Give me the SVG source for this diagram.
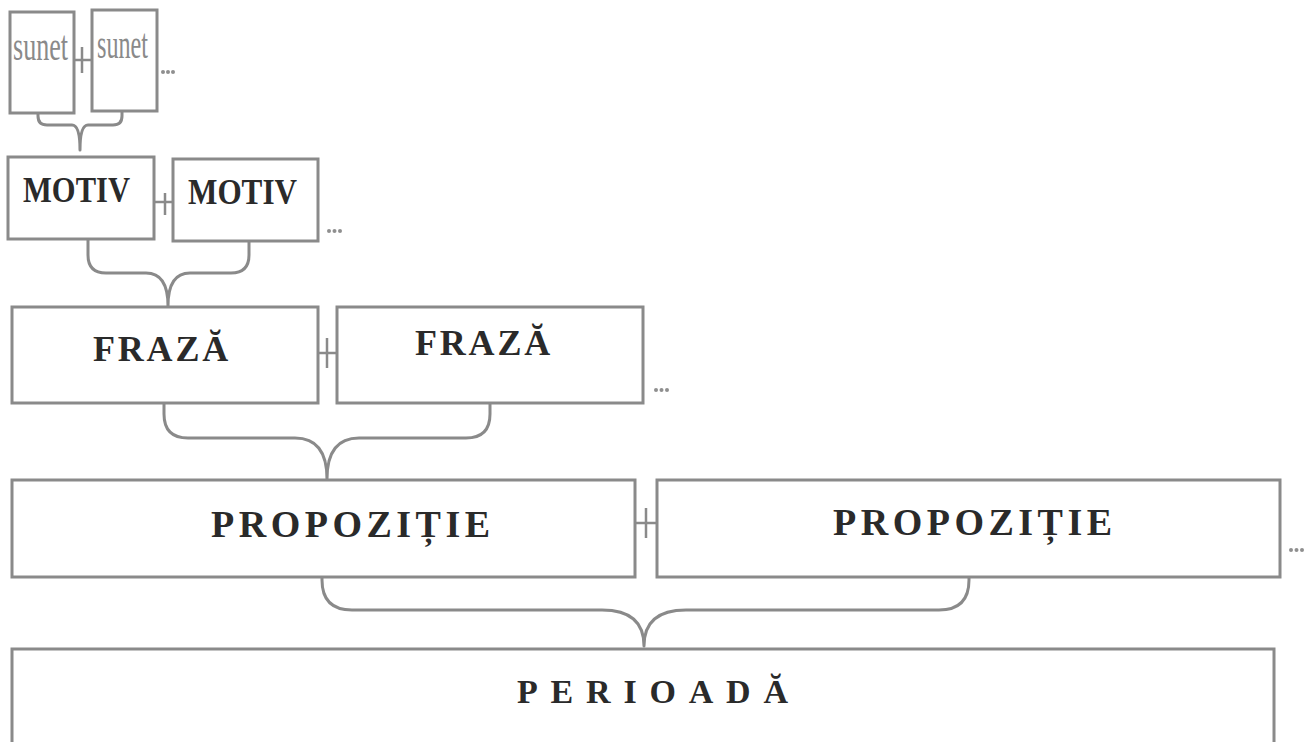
<svg xmlns="http://www.w3.org/2000/svg" width="1312" height="742" viewBox="0 0 1312 742">
<style>
.box{fill:#fff;stroke:#8a8a8a;stroke-width:3}
.br{fill:none;stroke:#8a8a8a;stroke-width:3;stroke-linecap:round}
.plus{fill:none;stroke:#8a8a8a;stroke-width:2.5}
.dots{fill:#8f8f8f}
.lab{font-family:"Liberation Serif","Times New Roman",serif;font-weight:bold;fill:#2a2a2a}
.sn{font-family:"Liberation Serif","Times New Roman",serif;fill:#8a8a8a}
</style>
<rect width="1312" height="742" fill="#fff"/>
<g id="connectors">
<path class="br" d="M38,113 V116 Q38,125 47,125 H72 Q80,125 80,150 M122,111 V116 Q122,125 113,125 H88 Q80,125 80,150"/>
<path class="br" d="M88,240 V255 Q88,273 106,273 H146 Q168,273 168,306 M249,241 V255 Q249,273 231,273 H190 Q168,273 168,306"/>
<path class="br" d="M164,404 V414 Q164,438 188,438 H295 Q327,438 327,479 M490,404 V414 Q490,438 466,438 H359 Q327,438 327,479"/>
<path class="br" d="M322,578 V580 Q322,610 352,610 H602 Q644,610 644,646 M969,578 V580 Q969,610 939,610 H686 Q644,610 644,646"/>
</g>
<g id="plus-signs">
<path class="plus" d="M74,60 H92 M82,47 V73"/>
<path class="plus" d="M155,202 H173 M165,193 V215"/>
<path class="plus" d="M319,353 H337 M327,338 V368"/>
<path class="plus" d="M636,523 H656 M646,508 V538"/>
</g>
<g id="ellipses">
<g class="dots"><circle cx="163" cy="72" r="2"/><circle cx="168" cy="72" r="2"/><circle cx="173" cy="72" r="2"/></g>
<g class="dots"><circle cx="329" cy="231" r="2"/><circle cx="334.5" cy="231" r="2"/><circle cx="340" cy="231" r="2"/></g>
<g class="dots"><circle cx="656" cy="390" r="2"/><circle cx="661.5" cy="390" r="2"/><circle cx="667" cy="390" r="2"/></g>
<g class="dots"><circle cx="1291" cy="550" r="2"/><circle cx="1296.5" cy="550" r="2"/><circle cx="1302" cy="550" r="2"/></g>
</g>
<g id="sunet1"><rect class="box" x="10" y="12" width="64" height="101"/><text class="sn" x="13" y="60" font-size="42" textLength="55" lengthAdjust="spacingAndGlyphs">sunet</text></g>
<g id="sunet2"><rect class="box" x="92" y="10" width="65" height="101"/><text class="sn" x="97" y="58" font-size="42" textLength="51" lengthAdjust="spacingAndGlyphs">sunet</text></g>
<g id="motiv1"><rect class="box" x="8" y="157" width="146" height="82"/><text class="lab" x="23" y="202" font-size="35" textLength="107" lengthAdjust="spacingAndGlyphs">MOTIV</text></g>
<g id="motiv2"><rect class="box" x="173" y="159" width="145" height="82"/><text class="lab" x="188" y="204" font-size="35" textLength="109" lengthAdjust="spacingAndGlyphs">MOTIV</text></g>
<g id="fraza1"><rect class="box" x="12" y="307" width="306" height="96"/><text class="lab" x="93" y="361" font-size="36" letter-spacing="2.8">FRAZĂ</text></g>
<g id="fraza2"><rect class="box" x="337" y="307" width="306" height="96"/><text class="lab" x="415" y="355" font-size="36" letter-spacing="2.8">FRAZĂ</text></g>
<g id="propozitie1"><rect class="box" x="12" y="480" width="623" height="97"/><text class="lab" x="211" y="537" font-size="38" letter-spacing="4.5">PROPOZIȚIE</text></g>
<g id="propozitie2"><rect class="box" x="657" y="480" width="623" height="97"/><text class="lab" x="833" y="535" font-size="38" letter-spacing="4.5">PROPOZIȚIE</text></g>
<g id="perioada"><rect class="box" x="12" y="649" width="1262" height="100"/><text class="lab" x="517" y="703" font-size="34" letter-spacing="12.8">PERIOADĂ</text></g>
</svg>
